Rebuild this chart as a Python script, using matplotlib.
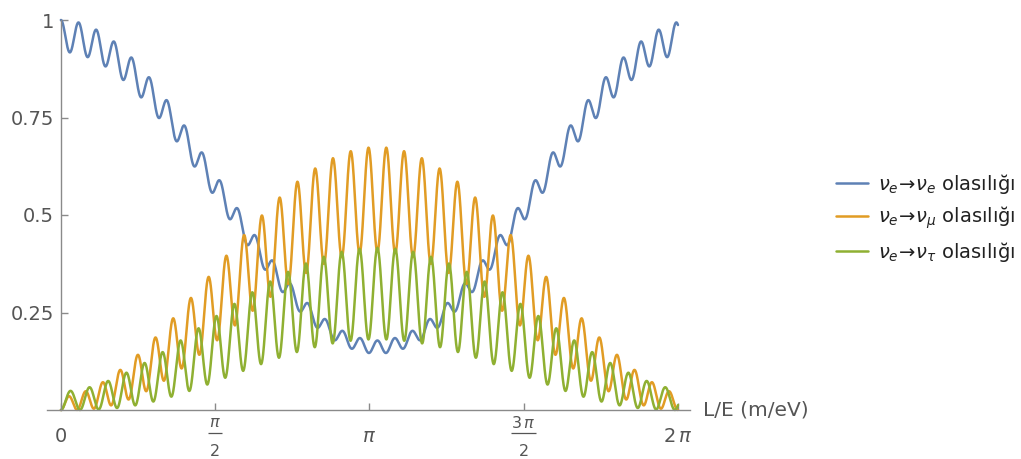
import numpy as np
import matplotlib
matplotlib.use("Agg")
import matplotlib.pyplot as plt
from matplotlib.transforms import blended_transform_factory, ScaledTranslation

# Three-flavour vacuum oscillation parameters
theta12_deg = 32.9
theta13_deg = 8.3
theta23_deg = 40.0
delta_cp_deg = 0.0
delta21_per_LE = 0.4874        # solar phase Δ21 = Δm²21·L/4E per unit of L/E
dm31_over_dm21 = 36.0          # Δm²31 / Δm²21

x_ticks = [0, np.pi / 2, np.pi, 3 * np.pi / 2, 2 * np.pi]
# plain labels; fractional ones are stacked (numerator, denominator) below
x_tick_labels = ["0", "", r"$\pi$", "", r"$2\,\pi$"]
x_fraction_labels = {np.pi / 2: (r"$\pi$", "2"), 3 * np.pi / 2: (r"$3\,\pi$", "2")}
y_ticks = [0.25, 0.5, 0.75, 1.0]
y_tick_labels = ["0.25", "0.5", "0.75", "1"]

series_labels = [
    r"$\nu_e\!\rightarrow\!\nu_e$ olasılığı",
    r"$\nu_e\!\rightarrow\!\nu_\mu$ olasılığı",
    r"$\nu_e\!\rightarrow\!\nu_\tau$ olasılığı",
]
series_colors = ["#5E81B5", "#E19C24", "#8FB032"]
x_label = "L/E (m/eV)"


def pmns(t12, t13, t23, d):
    s12, c12 = np.sin(t12), np.cos(t12)
    s13, c13 = np.sin(t13), np.cos(t13)
    s23, c23 = np.sin(t23), np.cos(t23)
    e = np.exp(1j * d)
    return np.array([
        [c12 * c13, s12 * c13, s13 / e],
        [-s12 * c23 - c12 * s23 * s13 * e, c12 * c23 - s12 * s23 * s13 * e, s23 * c13],
        [s12 * s23 - c12 * c23 * s13 * e, -c12 * s23 - s12 * c23 * s13 * e, c23 * c13],
    ])


U = pmns(*np.radians([theta12_deg, theta13_deg, theta23_deg, delta_cp_deg]))
x = np.linspace(0, 2 * np.pi, 6000)
# phase of mass state i relative to state 1: 2·Δi1
phases = np.outer(2 * delta21_per_LE * x, [0.0, 1.0, dm31_over_dm21])
waves = np.exp(-1j * phases)
probs = [np.abs(waves @ (np.conj(U[0]) * U[b])) ** 2 for b in range(3)]

fig = plt.figure(figsize=(10.21, 4.59), dpi=100)
ax = fig.add_axes([47 / 1021, 49 / 459, 643 / 1021, 390 / 459])

for p, c, lab in zip(probs, series_colors, series_labels):
    ax.plot(x, p, color=c, lw=1.8, label=lab, clip_on=False, solid_capstyle="round")

ax.set_xlim(-0.045 * np.pi, 2.039 * np.pi)
ax.set_ylim(0, 1)

axis_color = "#8a8a8a"
text_color = "#555555"
for side in ("top", "right"):
    ax.spines[side].set_visible(False)
ax.spines["left"].set_position(("data", 0))
ax.spines["bottom"].set_position(("data", 0))
for side in ("left", "bottom"):
    ax.spines[side].set_color(axis_color)
    ax.spines[side].set_linewidth(1.0)

ax.set_xticks(x_ticks)
ax.set_xticklabels(x_tick_labels)
ax.set_yticks(y_ticks)
ax.set_yticklabels(y_tick_labels)
ax.tick_params(axis="both", direction="in", length=5, width=1.0, color=axis_color,
               labelcolor=text_color, labelsize=14)
ax.tick_params(axis="y", pad=5)
ax.tick_params(axis="x", pad=19)
for lbl in ax.get_xticklabels():
    lbl.set_verticalalignment("center")

# stacked fraction tick labels (offsets in inches below the axis line)
base = blended_transform_factory(ax.transData, ax.transAxes)
for xv, (num, den) in x_fraction_labels.items():
    tr = fig.dpi_scale_trans + ScaledTranslation(xv, 0, base)
    ax.text(0, -0.125, num, transform=tr, ha="center", va="center",
            fontsize=11.5, color=text_color, clip_on=False)
    ax.text(0, -0.41, den, transform=tr, ha="center", va="center",
            fontsize=11.5, color=text_color, clip_on=False)
    half = 0.07 if num == r"$\pi$" else 0.125
    ax.plot([-half, half], [-0.23, -0.23], transform=tr, color=text_color,
            lw=0.9, clip_on=False, solid_capstyle="butt")

ax.text(1.02, 0.0, x_label, transform=ax.transAxes, ha="left", va="center",
        fontsize=14.5, color=text_color)

leg = ax.legend(loc="center left", bbox_to_anchor=(836 / 1021, 1 - 217.5 / 459),
                bbox_transform=fig.transFigure, frameon=False, fontsize=14,
                handlelength=1.65, handletextpad=0.5, labelspacing=0.45,
                borderpad=0, borderaxespad=0)
for t in leg.get_texts():
    t.set_color("#222222")

fig.savefig("out.png", dpi=100)
